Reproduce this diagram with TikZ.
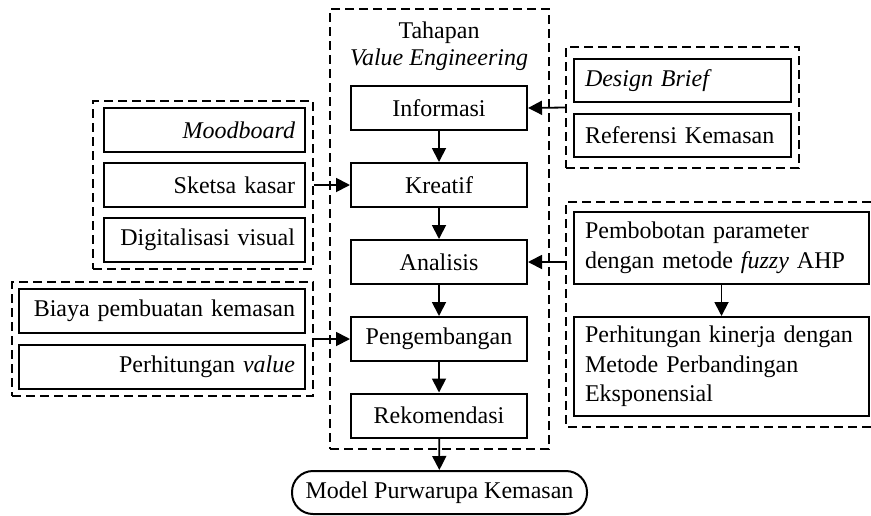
\documentclass[tikz,border=0pt]{standalone}
\usepackage{fontspec}
\setmainfont{Liberation Serif}
\usetikzlibrary{arrows.meta}
\begin{document}
\begin{tikzpicture}[x=0.5pt,y=-0.5pt,
  every node/.style={font=\fontsize{12}{14.8}\selectfont},
  stage/.style={draw, line width=1pt, minimum width=88pt, minimum height=22pt, inner sep=0pt},
  lbox/.style={draw, line width=1pt, minimum height=22pt, inner xsep=5pt, inner ysep=0pt, align=right},
  rbox/.style={draw, line width=1pt, inner xsep=5.5pt, inner ysep=0pt, align=left},
  grp/.style={draw, dash pattern=on 4.5pt off 2.5pt, line width=0.9pt, inner sep=0pt},
  arr/.style={-{Triangle[length=7pt,width=7pt]}, line width=0.9pt}
]
\useasboundingbox (0,0) rectangle (871,515);
\fill[white] (0,0) rectangle (871,515);

% dashed groups
\node[grp, minimum width=110pt, minimum height=84pt] (g1) at (203,185) {};
\node[grp, minimum width=150.5pt, minimum height=57pt] (g2) at (162.5,339) {};
\node[grp, minimum width=109.5pt, minimum height=220pt] (gc) at (439.5,229) {};
\node[grp, minimum width=116.5pt, minimum height=60.5pt] (g3) at (682.5,107.5) {};
\draw[grp] (871,202) -- (566,202) -- (566,427) -- (871,427);
\coordinate (g4w) at (566,262);

% title of centre group
\node[anchor=base] (t1) at (439,38) {Tahapan};
\node[anchor=base] (t2) at (439,65) {\itshape Value Engineering};

% centre stages
\node[stage] (info) at (439,108) {Informasi};
\node[stage] (krea) at (439,185) {Kreatif};
\node[stage] (anal) at (439,262) {Analisis};
\node[stage] (peng) at (439,339) {Pengembangan};
\node[stage] (reko) at (439,415.5) {Rekomendasi};

% left group 1
\node[lbox, text width=90.5pt] (mood) at (204.5,130) {\itshape Moodboard};
\node[lbox, text width=90.5pt] (sket) at (204.5,185) {Sketsa kasar};
\node[lbox, text width=90.5pt] (digi) at (204.5,240) {Digitalisasi visual};

% left group 2
\node[lbox, text width=133pt] (biay) at (162,311) {Biaya pembuatan kemasan};
\node[lbox, text width=133pt] (pval) at (162,366.5) {Perhitungan \textit{value}};

% right group 1
\node[rbox, text width=97.5pt, minimum height=21.5pt] (desb) at (682.5,80.5) {\itshape Design Brief};
\node[rbox, text width=97.5pt, minimum height=21.5pt] (refk) at (682.5,135.5) {Referensi Kemasan};

% right group 2
\node[rbox, text width=136.5pt, minimum height=36pt] (pemb) at (721.5,248) {Pembobotan parameter\\dengan metode \textit{fuzzy} AHP};
\node[rbox, text width=136.5pt, minimum height=49.5pt] (pkin) at (721.5,366.5) {Perhitungan kinerja dengan\\Metode Perbandingan\\Eksponensial};

% output
\node[draw, line width=1pt, rounded corners=10.5pt, minimum width=147.5pt, minimum height=21.5pt, inner sep=0pt] (model) at (439.5,492.5) {Model Purwarupa Kemasan};

% connectors
\draw[arr] (info) -- (krea);
\draw[arr] (krea) -- (anal);
\draw[arr] (anal) -- (peng);
\draw[arr] (peng) -- (reko);
\draw[arr] (reko) -- (model);
\draw[arr] (pemb) -- (pkin);
\draw[arr] (g1.east) -- (krea.west);
\draw[arr] (g2.east) -- (peng.west);
\draw[arr] (g3.west) -- (info.east);
\draw[arr] (g4w) -- (anal.east);
\end{tikzpicture}
\end{document}
